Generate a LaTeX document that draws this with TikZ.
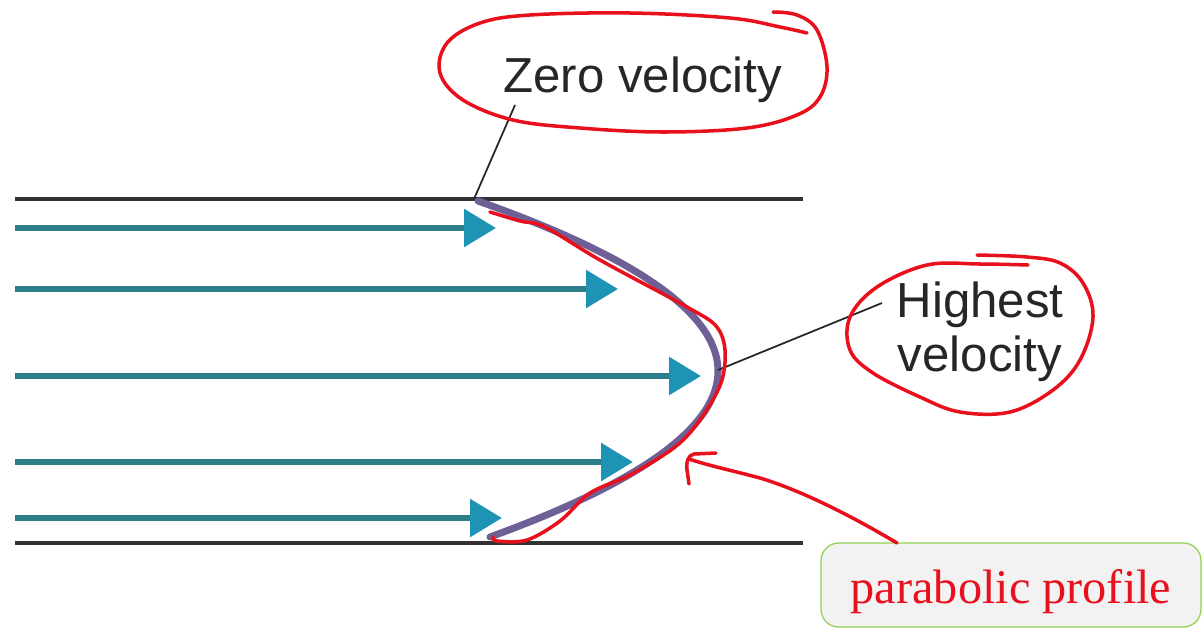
\documentclass[tikz,border=0pt]{standalone}
\usepackage{fontspec}
\usepackage{tikz}
\usetikzlibrary{positioning, arrows.meta}
\newfontfamily\labelfont{Liberation Sans}
\newfontfamily\notefont{Liberation Serif}
\definecolor{flowline}{HTML}{2B7E8A}
\definecolor{flowhead}{HTML}{1E93B4}
\definecolor{profile}{HTML}{6E5F96}
\definecolor{inkred}{HTML}{E8101C}
\definecolor{boxgreen}{HTML}{92D050}
\definecolor{boxfill}{HTML}{F2F2F2}

\begin{document}
\begin{tikzpicture}[
    x=0.02cm, y=-0.02cm,
    wall/.style={draw=black!80, line width=2.2pt},
    flow/.style={draw=flowline, line width=3.4pt,
      -{Triangle[length=0.64cm, width=0.74cm, color=flowhead]}},
    leader/.style={draw=black!85, line width=1pt},
    tag/.style={font=\labelfont\fontsize{28}{31}\selectfont, text=black!85,
      inner sep=0pt},
    ink/.style={draw=inkred, line width=2pt, line cap=round, line join=round},
    notebox/.style={draw=boxgreen, fill=boxfill, rounded corners=10pt,
      line width=0.7pt, minimum width=7.6cm, minimum height=1.68cm,
      text height=0.9cm, text depth=0.15cm,
      font=\notefont\fontsize{27.5}{30}\selectfont, text=inkred}
  ]
    \useasboundingbox (0,0) rectangle (1202,629);

    % pipe walls
    \coordinate (topL) at (15,199);
    \coordinate (topR) at (803,199);
    \coordinate (botL) at (15,543);
    \coordinate (botR) at (803,543);
    \draw[wall] (topL) -- (topR);
    \draw[wall] (botL) -- (botR);

    % velocity arrows
    \foreach \y/\tip in {228/496, 289/618, 376/701, 462/633, 518/502}
      \draw[flow] (15,\y) -- (\tip,\y);

    % velocity profile
    \coordinate (p0) at (478,201);
    \coordinate (pv) at (718,370);
    \coordinate (p1) at (490,537);
    \draw[profile, line width=4pt, line cap=round]
      (p0) .. controls (794,313) and (798,425) .. (p1);

    % labels
    \node[tag, anchor=base west] (zero) at (503,92) {Zero velocity};
    \node[tag, align=center, anchor=north] (high) at (980,281)
      {Highest\\velocity};
    \coordinate (zeroend) at (515,105);
    \coordinate (highend) at (882,303);
    \draw[leader] (zeroend) -- (474,199);
    \draw[leader] (highend) -- (pv);

    % hand-drawn red marks
    \draw[ink] plot[smooth, tension=0.55] coordinates {
      (490,212) (520,221) (545,227) (600,260) (687,307)
      (716,326) (725,350) (721,383) (700,420) (675,447)
      (630,475) (590,493) (560,521) (527,540) (497,541) (493,537)};
    \draw[ink] plot[smooth, tension=0.6] coordinates {
      (773,12) (797,15) (817,30) (827,67) (820,97) (797,115) (747,128)
      (663,132) (580,128) (513,120) (463,100) (440,73) (447,43) (480,23)
      (530,15) (630,13) (730,18) (780,27) (807,33)};
    \draw[ink] plot[smooth, tension=0.6] coordinates {
      (977,255) (1027,257) (1060,263) (1083,283) (1093,317) (1080,360)
      (1053,390) (1010,412) (960,412) (920,397) (873,373) (850,350)
      (850,317) (877,287) (927,265) (980,264) (1028,265)};

    % note box with arrow
    \node[notebox] (note) at (1011,585) {parabolic profile};
    \coordinate (notetip) at (689,459);
    \draw[ink] (897,543) .. controls (850,515) and (800,490) .. (760,478)
      .. controls (730,470) and (710,466) .. (notetip);
    \draw[ink] (716,453) -- (694,454) .. controls (688,455) and (686,462) .. (687,470)
      -- (689,484);
  \end{tikzpicture}
\end{document}
